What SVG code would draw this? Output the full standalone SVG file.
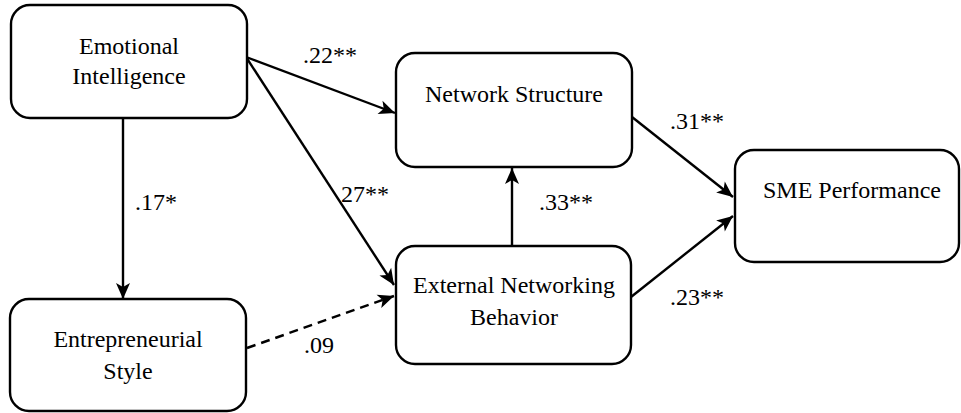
<svg xmlns="http://www.w3.org/2000/svg" width="961" height="413" viewBox="0 0 961 413">
<style>
.box{fill:#fff;stroke:#000;stroke-width:2.4}
.edge{stroke:#000;stroke-width:2.4;fill:none;marker-end:url(#arr)}
.dash{stroke-dasharray:9 6}
text{font-family:'Liberation Serif','Times New Roman',serif;font-size:24px;fill:#000}
.c{text-anchor:middle}
</style>
<defs>
<marker id="arr" markerUnits="userSpaceOnUse" markerWidth="20" markerHeight="16" refX="17" refY="8" orient="auto">
<path d="M1,1 L17,8 L1,15 L5,8 z" fill="#000"/>
</marker>
</defs>
<rect width="961" height="413" fill="#fff"/>
<g id="connectors">
<line class="edge" x1="123" y1="119" x2="123" y2="299"/>
<line class="edge" x1="246" y1="57" x2="395" y2="113"/>
<line class="edge" x1="246" y1="57" x2="394" y2="285"/>
<line class="edge dash" x1="247" y1="348" x2="394" y2="296"/>
<line class="edge" x1="512" y1="246" x2="512" y2="168"/>
<line class="edge" x1="632" y1="117" x2="733" y2="197"/>
<line class="edge" x1="631" y1="297" x2="733" y2="216"/>
</g>
<g id="labels">
<text x="303" y="63">.22**</text>
<text x="341" y="202">27**</text>
<text x="135" y="210">.17*</text>
<text x="539" y="210">.33**</text>
<text x="670" y="129">.31**</text>
<text x="670" y="305">.23**</text>
<text x="304" y="353">.09</text>
</g>
<g id="emotional-intelligence">
<rect class="box" x="11" y="5" width="236" height="113" rx="19"/>
<text class="c" x="129" y="54">Emotional</text>
<text class="c" x="129" y="84">Intelligence</text>
</g>
<g id="network-structure">
<rect class="box" x="396" y="53" width="236" height="114" rx="19"/>
<text class="c" x="514" y="102">Network Structure</text>
</g>
<g id="external-networking-behavior">
<rect class="box" x="396" y="246" width="235" height="118" rx="19"/>
<text class="c" x="514" y="293">External Networking</text>
<text class="c" x="514" y="325">Behavior</text>
</g>
<g id="entrepreneurial-style">
<rect class="box" x="10" y="299" width="236" height="112" rx="19"/>
<text class="c" x="128" y="347">Entrepreneurial</text>
<text class="c" x="128" y="379">Style</text>
</g>
<g id="sme-performance">
<rect class="box" x="735" y="150" width="224" height="112" rx="19"/>
<text class="c" x="852" y="198">SME Performance</text>
</g>
</svg>
